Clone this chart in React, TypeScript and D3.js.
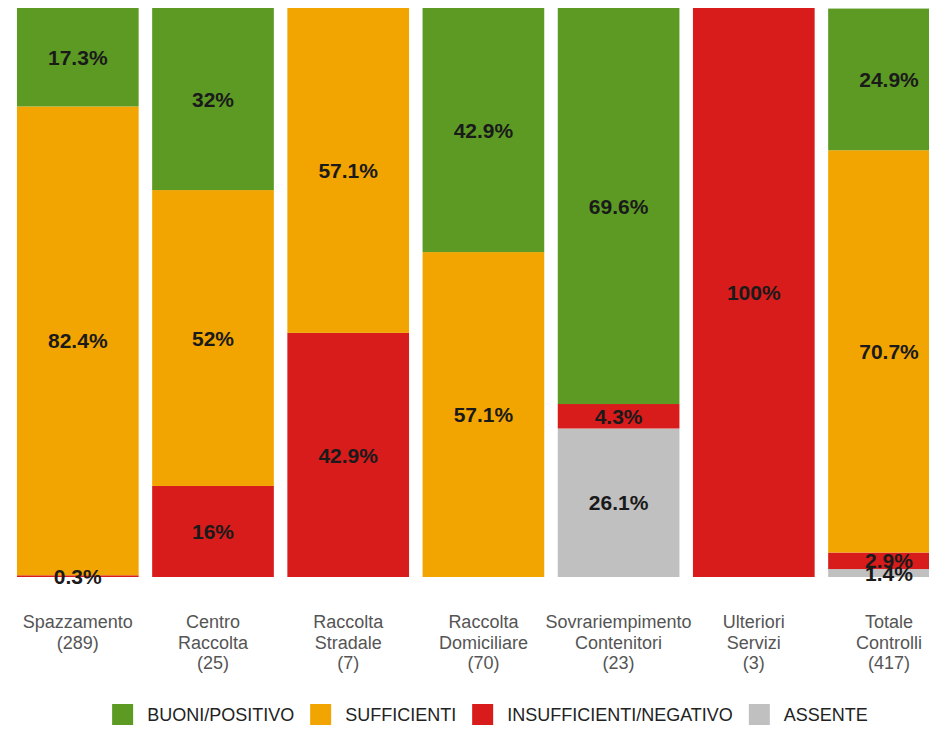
import React, { useRef, useEffect } from 'react';
import * as d3 from 'd3';

const categories = [
  ['Spazzamento', '(289)'],
  ['Centro', 'Raccolta', '(25)'],
  ['Raccolta', 'Stradale', '(7)'],
  ['Raccolta', 'Domiciliare', '(70)'],
  ['Sovrariempimento', 'Contenitori', '(23)'],
  ['Ulteriori', 'Servizi', '(3)'],
  ['Totale', 'Controlli', '(417)'],
];

const buoni = [17.3, 32, 0, 42.9, 69.6, 0, 24.9];
const sufficienti = [82.4, 52, 57.1, 57.1, 0, 0, 70.7];
const insufficienti = [0.3, 16, 42.9, 0, 4.3, 100, 2.9];
const assente = [0, 0, 0, 0, 26.1, 0, 1.4];

const seriesNames = ['BUONI/POSITIVO', 'SUFFICIENTI', 'INSUFFICIENTI/NEGATIVO', 'ASSENTE'];
const colors = ['#5c9a24', '#f2a500', '#d81c1c', '#c0c0c0'];

const FONT = "'Liberation Sans', Arial, sans-serif";

const App: React.FC = () => {
  const svgRef = useRef<SVGSVGElement | null>(null);

  useEffect(() => {
    const svg = d3.select(svgRef.current);
    svg.selectAll('*').remove();

    const keys = ['assente', 'insufficienti', 'sufficienti', 'buoni'];
    const colorOf: Record<string, string> = {
      buoni: colors[0], sufficienti: colors[1], insufficienti: colors[2], assente: colors[3],
    };
    const rows = categories.map((c, i) => ({
      idx: i,
      buoni: buoni[i],
      sufficienti: sufficienti[i],
      insufficienti: insufficienti[i],
      assente: assente[i],
    }));

    const x = d3.scaleBand<number>()
      .domain(d3.range(categories.length))
      .range([10.2, 956.6])
      .paddingInner(0.1)
      .paddingOuter(0.05);

    const y = d3.scaleLinear().domain([0, 100]).range([577, 8]);

    const stack = d3.stack<any>().keys(keys)(rows);

    const layers = svg.append('g')
      .selectAll('g')
      .data(stack)
      .join('g')
      .attr('fill', d => colorOf[d.key]);

    layers.selectAll('rect')
      .data(d => d.map(s => ({ s, key: d.key })))
      .join('rect')
      .attr('x', d => x(d.s.data.idx)!)
      .attr('width', x.bandwidth())
      .attr('y', d => y(d.s[1]))
      .attr('height', d => y(d.s[0]) - y(d.s[1]));

    // value labels
    const labels = svg.append('g')
      .attr('font-family', FONT)
      .attr('font-size', 21)
      .attr('font-weight', 'bold')
      .attr('fill', '#1a1a1a')
      .attr('text-anchor', 'middle');

    stack.forEach(layer => {
      layer.forEach(s => {
        const v = (s.data as any)[layer.key];
        if (!v) return;
        labels.append('text')
          .attr('x', x(s.data.idx)! + x.bandwidth() / 2)
          .attr('y', (y(s[0]) + y(s[1])) / 2)
          .attr('dy', '0.36em')
          .text(`${v}%`);
      });
    });

    // category labels
    const cat = svg.append('g')
      .attr('font-family', FONT)
      .attr('font-size', 18)
      .attr('fill', '#555')
      .attr('text-anchor', 'middle');

    categories.forEach((lines, i) => {
      const t = cat.append('text')
        .attr('x', x(i)! + x.bandwidth() / 2)
        .attr('y', 628);
      lines.forEach((l, j) => {
        t.append('tspan')
          .attr('x', x(i)! + x.bandwidth() / 2)
          .attr('dy', j === 0 ? 0 : 20.5)
          .text(l);
      });
    });

    // legend
    const legend = svg.append('g')
      .attr('font-family', FONT)
      .attr('font-size', 18)
      .attr('fill', '#222');

    let cursor = 0;
    const items = seriesNames.map((name, i) => {
      const g = legend.append('g');
      g.append('rect')
        .attr('y', 704)
        .attr('width', 21)
        .attr('height', 21)
        .attr('fill', colors[i]);
      const t = g.append('text')
        .attr('x', 35)
        .attr('y', 721)
        .text(name);
      const w = (t.node() as SVGTextElement).getComputedTextLength();
      const start = cursor;
      cursor += 35 + w + 16;
      return { g, start };
    });
    const total = cursor - 16;
    const left = 490 - total / 2;
    items.forEach(({ g, start }) => g.attr('transform', `translate(${left + start},0)`));
  }, []);

  return (
    <svg
      ref={svgRef}
      width={929}
      height={729}
      style={{ position: 'absolute', left: 0, top: 0, background: '#fff' }}
    />
  );
};

export default App;
